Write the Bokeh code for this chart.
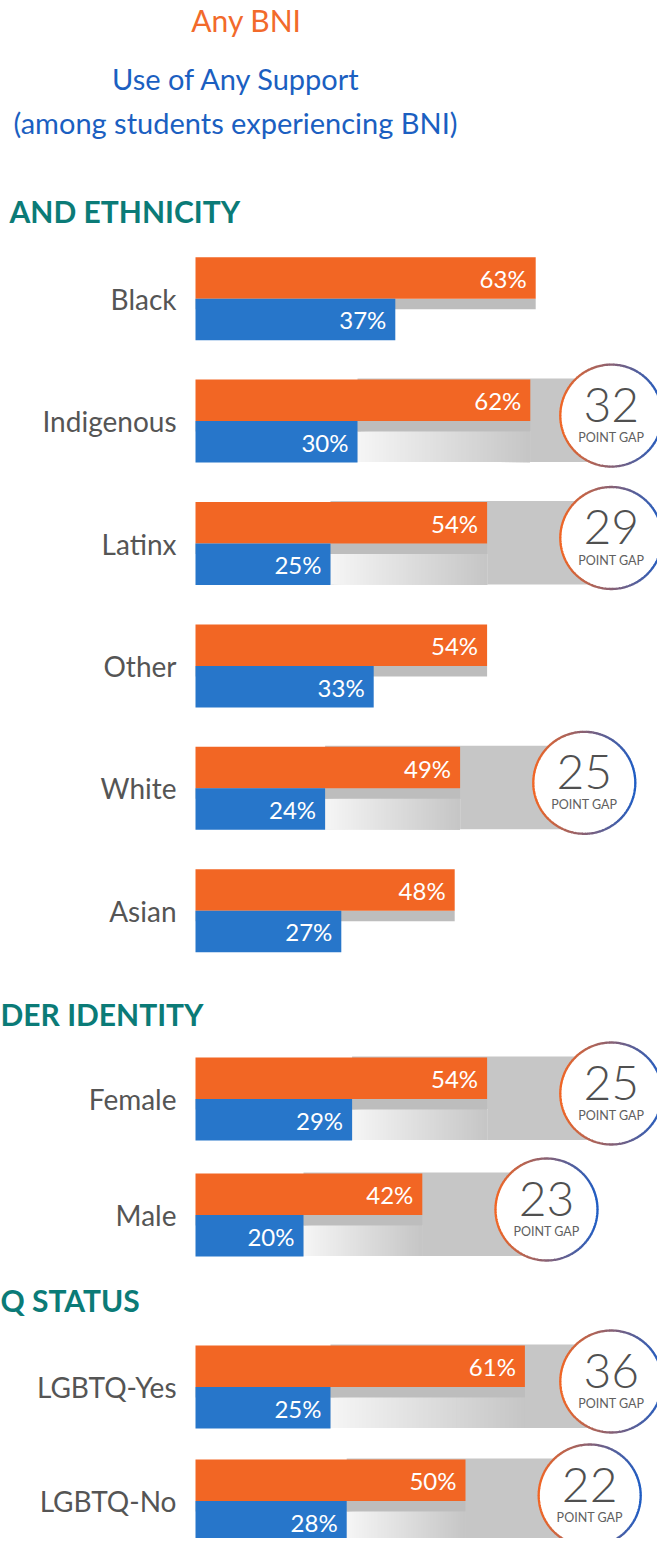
import numpy as np
from bokeh.plotting import figure
from bokeh.models import Range1d
from bokeh.core.properties import value
from bokeh.embed import file_html
from bokeh.resources import INLINE

# ---------------- data ----------------
categories = ["Black", "Indigenous", "Latinx", "Other", "White", "Asian",
              "Female", "Male", "LGBTQ-Yes", "LGBTQ-No"]
section_of = [0, 0, 0, 0, 0, 0, 1, 1, 2, 2]
any_bni = [63, 62, 54, 54, 49, 48, 54, 42, 61, 50]
any_support = [37, 30, 25, 33, 24, 27, 29, 20, 25, 28]
point_gap = [None, 32, 29, None, 25, None, 25, 23, 36, 22]
section_titles = ["AND ETHNICITY", "DER IDENTITY", "Q STATUS"]
title_text = "Any BNI"
subtitle_lines = ["Use of Any Support", "(among students experiencing BNI)"]

# ---------------- layout / style ----------------
W, H = 657, 1538
PX = 5.4              # pixels per percentage point
ORIGIN = 195          # pixel x of the 0% baseline
SEC_TOP = [256.7, 1057, 1345]
SEC_PITCH = [122.4, 116, 114]
SEC_HEAD_Y = [210.5, 1013.5, 1299.5]
SEC_HEAD_X = [9, 0, 0]
BAR_H = 41.5
SHADOW_H = 10.5
BADGE_R = 51

ORANGE = "#F26624"
BLUE = "#2776CA"
GREY = "#C6C6C6"
SHADOW = "#BDBDBD"
TEAL = "#0B7B77"
LABEL = "#555555"
FONT = "Lato"
LIGHT_FONT = "'Lato Light', Lato"


def fx(px):
    return (px - ORIGIN) / PX


p = figure(width=W, height=H, output_backend="svg", toolbar_location=None,
           x_range=Range1d(fx(0), fx(W)), y_range=Range1d(H, 0),
           min_border=0, outline_line_color=None)
p.axis.visible = False
p.grid.visible = False
p.background_fill_color = "white"
p.border_fill_color = "white"

# row tops
counts = {}
tops = []
for s in section_of:
    i = counts.get(s, 0)
    tops.append(SEC_TOP[s] + i * SEC_PITCH[s])
    counts[s] = i + 1
tops = np.array(tops)
o = np.array(any_bni, dtype=float)
b = np.array(any_support, dtype=float)

# gap rows: grey background + gradient
gap_idx = [i for i, g in enumerate(point_gap) if g is not None]
cx = {i: min(o[i] + 23, 77) for i in gap_idx}
cy = {i: tops[i] + 36 for i in gap_idx}

for i in gap_idx:
    p.quad(left=b[i], right=cx[i], top=tops[i] - 1, bottom=tops[i] + 2 * BAR_H - 0.5,
           fill_color=GREY, line_color=None)
    n = 48
    edges = np.linspace(b[i], o[i], n + 1)
    light = np.array([245, 245, 245])
    dark = np.array([198, 198, 198])
    cols = []
    for k in range(n):
        t = (k + 0.5) / n
        c = np.round(light + (dark - light) * t).astype(int)
        cols.append("#%02x%02x%02x" % tuple(c))
    # each strip reaches to the right end, later strips overlap -> no seams
    p.quad(left=edges[:-1], right=[o[i]] * n,
           top=[tops[i] + BAR_H + SHADOW_H] * n, bottom=[tops[i] + 2 * BAR_H - 0.5] * n,
           fill_color=cols, line_color=None)

# shadow strip under orange bars
p.quad(left=0, right=o, top=tops + BAR_H, bottom=tops + BAR_H + SHADOW_H,
       fill_color=SHADOW, line_color=None)
# bars
p.quad(left=0, right=o, top=tops, bottom=tops + BAR_H, fill_color=ORANGE, line_color=None)
p.quad(left=0, right=b, top=tops + BAR_H, bottom=tops + 2 * BAR_H, fill_color=BLUE, line_color=None)

# value labels
p.text(x=o - 9 / PX, y=tops + BAR_H / 2 + 0.5, text=[f"{int(v)}%" for v in o],
       text_align="right", text_baseline="middle", text_color="white",
       text_font=value(FONT), text_font_size="24px")
p.text(x=b - 9 / PX, y=tops + 1.5 * BAR_H + 0.5, text=[f"{int(v)}%" for v in b],
       text_align="right", text_baseline="middle", text_color="white",
       text_font=value(FONT), text_font_size="24px")

# category labels
p.text(x=[fx(176)] * len(categories), y=tops + BAR_H, text=categories,
       text_align="right", text_baseline="middle", text_color=LABEL,
       text_font=value(FONT), text_font_size="28px")

# badges
for i in gap_idx:
    p.scatter(x=[cx[i]], y=[cy[i]], size=2 * BADGE_R, marker="circle",
              fill_color="white", line_color=None)
    nseg = 90
    ang = np.linspace(0, 2 * np.pi, nseg + 1)
    xs, ys, cols = [], [], []
    c_or = np.array([242, 102, 36])
    c_bl = np.array([30, 92, 196])
    for k in range(nseg):
        a = np.linspace(ang[k], ang[k + 1] + 0.01, 4)
        xs.append(list(cx[i] + BADGE_R * np.cos(a) / PX))
        ys.append(list(cy[i] + BADGE_R * np.sin(a)))
        t = (1 + np.cos((ang[k] + ang[k + 1]) / 2)) / 2
        c = (c_or + (c_bl - c_or) * t).astype(int)
        cols.append("#%02x%02x%02x" % tuple(c))
    p.multi_line(xs=xs, ys=ys, line_color=cols, line_width=2.3)
    p.text(x=[cx[i]], y=[cy[i] - 11], text=[str(point_gap[i])], text_align="center",
           text_baseline="middle", text_color="#505050", text_font=value(LIGHT_FONT),
           text_font_size="48px")
    p.text(x=[cx[i]], y=[cy[i] + 22], text=["POINT GAP"], text_align="center",
           text_baseline="middle", text_color="#606060", text_font=value(FONT),
           text_font_size="12.5px")

# section headers
for s, t in enumerate(section_titles):
    p.text(x=[fx(SEC_HEAD_X[s])], y=[SEC_HEAD_Y[s]], text=[t], text_align="left",
           text_baseline="middle", text_color=TEAL, text_font=value(FONT),
           text_font_style="bold", text_font_size="30px")

# titles
p.text(x=[fx(246)], y=[19], text=[title_text], text_align="center",
       text_baseline="middle", text_color="#F26A2B", text_font=value(FONT),
       text_font_size="30px")
p.text(x=[fx(236)], y=[77.5], text=[subtitle_lines[0]], text_align="center",
       text_baseline="middle", text_color="#1B5FC1", text_font=value(FONT),
       text_font_size="29px")
p.text(x=[fx(235)], y=[121.5], text=[subtitle_lines[1]], text_align="center",
       text_baseline="middle", text_color="#1B5FC1", text_font=value(FONT),
       text_font_size="29px")

open("out.html", "w").write(file_html(p, INLINE))
